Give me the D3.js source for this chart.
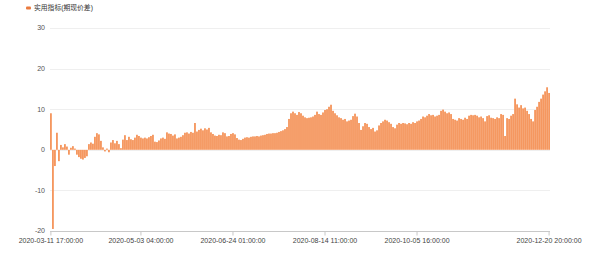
<!DOCTYPE html>
<html>
<head>
<meta charset="utf-8">
<script src="https://cdn.jsdelivr.net/npm/d3@7"></script>
<style>
  body { margin: 0; background: #fff; }
  svg { display: block; font-family: "Liberation Sans", "Noto Sans CJK SC", sans-serif; }
</style>
</head>
<body>
<svg id="chart"></svg>
<script>
const seriesName = "实用指标(期现价差)";

// one value per bar (hourly samples, left to right)
const values = [
  9.0, -19.5, -4.0, 4.2, -2.8, 1.2, 0.6, 1.4, 0.8, -1.2,
  0.5, 0.9, 0.3, -1.2, -1.8, -2.2, -2.4, -2.0, -1.6, 1.4,
  1.8, 1.5, 3.2, 4.1, 3.8, 2.2, 0.6, -0.4, 0.3, -0.6,
  1.8, 2.4, 1.6, 2.2, 1.4, 0.4, 2.5, 3.6, 2.4, 3.2,
  2.6, 2.4, 3.0, 3.7, 3.4, 3.0, 2.8, 3.0, 2.8, 3.1,
  3.4, 3.7, 2.0, 1.9, 2.3, 2.8, 3.0, 2.7, 4.3, 4.0,
  3.9, 3.5, 3.8, 2.8, 3.0, 3.2, 3.6, 4.2, 4.3, 4.0,
  4.4, 4.2, 6.6, 4.5, 4.9, 5.2, 4.8, 5.3, 5.0, 5.4,
  4.3, 3.9, 3.5, 3.4, 3.7, 3.6, 4.3, 4.1, 3.3, 3.4,
  3.9, 4.1, 3.8, 2.9, 2.5, 2.4, 2.7, 3.0, 3.1, 3.0,
  3.2, 3.3, 3.3, 3.4, 3.3, 3.5, 3.6, 3.7, 3.9, 4.0,
  4.0, 4.1, 4.1, 4.2, 4.4, 4.6, 4.8, 5.1, 5.6, 7.6,
  9.0, 9.4, 9.0, 8.6, 9.3, 9.0, 8.4, 8.0, 7.8, 7.9,
  8.0, 8.2, 8.6, 9.4, 8.8, 8.6, 9.2, 9.8, 10.0, 10.6,
  11.1, 9.6, 9.0, 8.5, 8.0, 7.8, 7.4, 7.6, 7.0, 7.2,
  7.4, 8.3, 8.9, 8.2, 6.6, 4.9, 5.8, 6.6, 6.4, 5.6,
  5.1, 5.4, 4.5, 4.8, 6.0, 6.6, 7.0, 7.4, 7.2, 6.8,
  6.4, 5.6, 5.3, 6.2, 6.6, 6.4, 6.6, 6.5, 6.3, 6.6,
  6.4, 6.8, 6.6, 7.0, 7.2, 7.6, 8.2, 8.0, 8.4, 8.8,
  8.5, 8.6, 8.2, 8.4, 8.6, 9.6, 9.9, 9.4, 9.0, 9.2,
  8.8, 7.6, 7.4, 7.2, 7.8, 7.6, 7.4, 7.9, 7.6, 8.4,
  8.6, 8.5, 8.6, 8.4, 8.0, 8.2, 7.8, 7.0, 8.3, 8.5,
  7.9, 7.8, 7.6, 8.0, 7.8, 8.8, 8.6, 3.4, 7.8, 7.6,
  8.4, 8.8, 12.6, 11.2, 10.4, 11.0, 10.2, 10.4, 9.6, 8.8,
  7.6, 7.0, 9.8, 10.6, 11.8, 12.6, 13.6, 14.4, 15.4, 14.0
];

// x axis labels and the bar they sit under
const tickLabels = [
  "2020-03-11 17:00:00", "2020-05-03 04:00:00", "2020-06-24 01:00:00",
  "2020-08-14 11:00:00", "2020-10-05 16:00:00", "2020-12-20 20:00:00"
];
const tickIndex = [0, 45, 91, 137, 183, 249];
const yTicks = [-20, -10, 0, 10, 20, 30];

const width = 600, height = 261;
const margin = {top: 28, right: 50, bottom: 30, left: 50};
const barColor = "#f5975f";

const svg = d3.select("#chart")
  .attr("width", width)
  .attr("height", height);

const x = d3.scaleBand()
  .domain(d3.range(values.length))
  .range([margin.left, width - margin.right])
  .paddingInner(0.08)
  .paddingOuter(0);

const y = d3.scaleLinear()
  .domain([-20, 30])
  .range([height - margin.bottom, margin.top]);

// grid lines
svg.append("g")
  .selectAll("line")
  .data(yTicks)
  .join("line")
    .attr("x1", margin.left)
    .attr("x2", width - margin.right)
    .attr("y1", d => Math.round(y(d)) + 0.5)
    .attr("y2", d => Math.round(y(d)) + 0.5)
    .attr("stroke", d => d === -20 ? "#c8c8c8" : "#efefef")
    .attr("stroke-width", 1);

// y labels
svg.append("g")
  .selectAll("text")
  .data(yTicks)
  .join("text")
    .attr("x", margin.left - 5)
    .attr("y", d => y(d))
    .attr("dy", "0.35em")
    .attr("text-anchor", "end")
    .attr("font-size", 7)
    .attr("fill", "#555")
    .text(d => d);

// bars
svg.append("g")
  .selectAll("rect")
  .data(values)
  .join("rect")
    .attr("x", (d, i) => x(i))
    .attr("width", x.bandwidth())
    .attr("y", d => y(Math.max(0, d)))
    .attr("height", d => Math.abs(y(d) - y(0)))
    .attr("fill", barColor);

// x axis ticks and labels
const xBase = Math.round(y(-20)) + 0.5;
const tickX = i => x(i) + x.bandwidth() / 2;

svg.append("g")
  .selectAll("line")
  .data(tickIndex)
  .join("line")
    .attr("x1", tickX)
    .attr("x2", tickX)
    .attr("y1", xBase)
    .attr("y2", xBase + 4)
    .attr("stroke", "#c8c8c8");

svg.append("g")
  .selectAll("text")
  .data(tickIndex)
  .join("text")
    .attr("x", tickX)
    .attr("y", xBase + 11)
    .attr("text-anchor", "middle")
    .attr("font-size", 7)
    .attr("fill", "#444")
    .text((d, i) => tickLabels[i]);

// legend
const legend = svg.append("g").attr("transform", "translate(26,8)");
legend.append("rect")
  .attr("x", 0).attr("y", -1.5)
  .attr("width", 5).attr("height", 3)
  .attr("rx", 1)
  .attr("fill", "#ea7a3e");
legend.append("text")
  .attr("x", 8)
  .attr("y", 0)
  .attr("dy", "0.35em")
  .attr("font-size", 6.8)
  .attr("fill", "#333")
  .text(seriesName);
</script>
</body>
</html>
